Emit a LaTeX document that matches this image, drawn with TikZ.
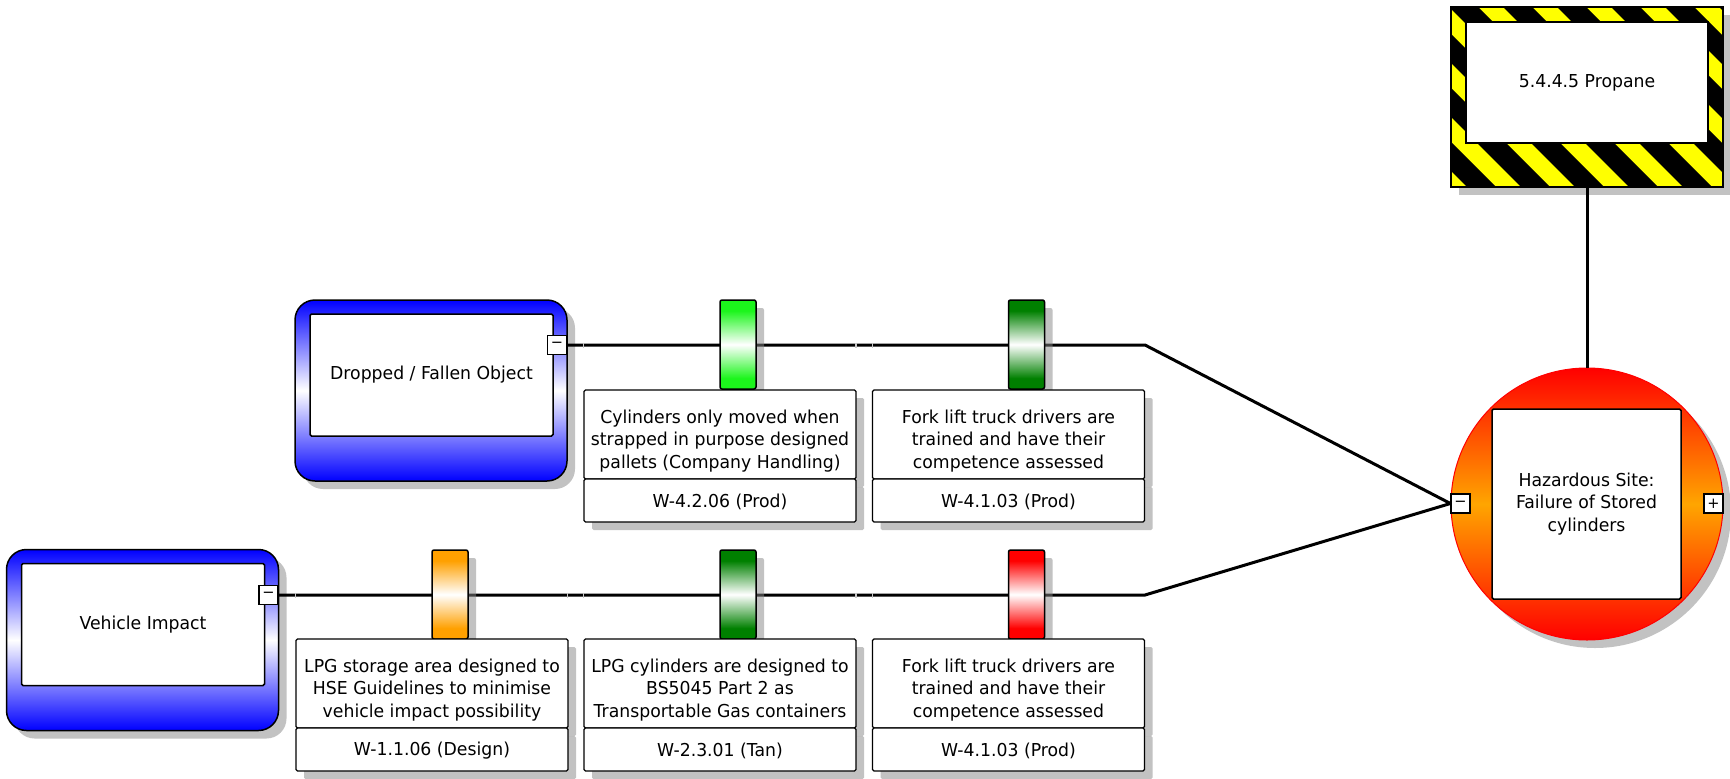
\documentclass[tikz,border=0pt]{standalone}
\usepackage{fontspec}
\setmainfont{DejaVu Sans}[FakeStretch=0.97]
\usetikzlibrary{shadows}

\definecolor{barlime}{HTML}{1CF51C}
\definecolor{bardkgreen}{HTML}{008000}
\definecolor{barorange}{HTML}{FFA000}
\definecolor{barred}{HTML}{FF0000}
\definecolor{evblue}{HTML}{0000FF}
\definecolor{hazyellow}{HTML}{FFFF00}
\definecolor{hazorange}{HTML}{FFA500}
\definecolor{gapgrey}{HTML}{C8C8C8}

% vertical barrier shadings: solid ends, white centre
\newcommand\barshade[2]{%
  \pgfdeclareverticalshading{#1}{100bp}{color(0bp)=(#2); color(25bp)=(#2); color(31bp)=(#2);
    color(50bp)=(white); color(69bp)=(#2); color(75bp)=(#2); color(100bp)=(#2)}}
\barshade{shlime}{barlime}
\barshade{shdkgreen}{bardkgreen}
\barshade{shorange}{barorange}
\barshade{shred}{barred}

\tikzset{
  txt/.style={font=\fontsize{17.8}{22.5}\selectfont},
  shd/.style={drop shadow={shadow xshift=8pt, shadow yshift=-8pt, fill=black!47, opacity=0.5}},
  evouter/.style={shd, rectangle, rounded corners=20pt, draw=black, line width=1.5pt,
    top color=evblue, bottom color=evblue, middle color=white,
    minimum width=272pt, minimum height=181pt, inner sep=0pt},
  evinner/.style={txt, rectangle, rounded corners=1.5pt, draw=black, line width=1.5pt, fill=white,
    minimum width=243pt, minimum height=122pt, inner sep=0pt, align=center},
  pmbox/.style={rectangle, draw=black, line width=1.2pt, fill=white, minimum size=19pt,
    inner sep=0pt, font=\fontsize{15}{15}\selectfont},
  barrier/.style={shd, rectangle, rounded corners=2pt, draw=black, line width=1.5pt,
    shading=#1, minimum width=36pt, minimum height=89pt, inner sep=0pt},
  descbox/.style={shd, rectangle, rounded corners=1.5pt, draw=black, line width=1.3pt, fill=white,
    minimum width=272pt, minimum height=89pt, inner sep=0pt},
  codebox/.style={shd, rectangle, rounded corners=1.5pt, draw=black, line width=1.3pt, fill=white,
    minimum width=272pt, minimum height=43pt, inner sep=0pt},
  boxtext/.style={txt, inner sep=0pt, align=center},
  wire/.style={line width=3pt, black},
  gapmark/.style={line width=1.3pt, gapgrey},
}

\begin{document}
\begin{tikzpicture}[x=1pt,y=-1pt]
\fill[white] (0,0) rectangle (1730,779);
\useasboundingbox (0,0) rectangle (1730,779);

% ---- threat events ----
\node[evouter] (dropOut) at (431,390.5) {};
\node[evinner] (drop) at (431.5,375) {Dropped / Fallen Object};
\node[pmbox] (dropMinus) at (557,345) {−};

\node[evouter] (vehOut) at (142.5,640) {};
\node[evinner] (veh) at (143,624.5) {Vehicle Impact};
\node[pmbox] (vehMinus) at (268.5,595) {−};

% ---- hazard (striped frame) ----
\node[shd, rectangle, fill=hazyellow, minimum width=272pt, minimum height=180pt, inner sep=0pt]
  (propOut) at (1587,97) {};
\begin{scope}
  \clip (propOut.south west) rectangle (propOut.north east);
  \foreach \k in {-5,...,6}
    \fill[black] ({1503+54*\k},7) -- ++(29,0) -- ++(185,185) -- ++(-29,0) -- cycle;
\end{scope}
\draw[line width=1.5pt] (propOut.south west) rectangle (propOut.north east);
\node[txt, rectangle, draw=black, line width=1.5pt, fill=white, minimum width=242pt,
  minimum height=121pt, inner sep=0pt] (prop) at (1587,82.5) {5.4.4.5 Propane};

% ---- top event ----
\node[shd, circle, draw=red, line width=1pt, top color=red, bottom color=red, middle color=hazorange,
  minimum size=272pt, inner sep=0pt] (hazOut) at (1587,504) {};
\node[txt, rectangle, rounded corners=1.5pt, draw=black, line width=1.5pt, fill=white,
  minimum width=189pt, minimum height=190pt, inner sep=0pt, align=center]
  (haz) at (1586.5,504) {Hazardous Site:\\Failure of Stored\\cylinders};
\node[pmbox] (hazMinus) at (1460.5,503.5) {−};
\node[pmbox] (hazPlus) at (1713.5,503.5) {+};

% ---- pathways ----
\coordinate (bendA) at (1145,345);
\coordinate (bendB) at (1145,595);
\draw[wire] (dropMinus.east) -- (bendA) -- (hazMinus.west);
\draw[wire] (vehMinus.east) -- (bendB) -- (hazMinus.west);

% small breaks where the wire segments join
\foreach \gx in {583.5,856,872.5}
  \draw[gapmark] (\gx,342.5) -- (\gx,347.5);
\foreach \gx in {295.5,567.5,583.5,856,872.5}
  \draw[gapmark] (\gx,592.5) -- (\gx,597.5);

% ---- barriers: upper pathway ----
\node[barrier=shlime] (b1) at (738,344.5) {};
\node[barrier=shdkgreen] (b2) at (1026.5,344.5) {};
\node[descbox] (d1) at (720,434.5) {};
\node[boxtext] (d1t) at ([yshift=-6.5pt]d1.center)
  {Cylinders only moved when\\strapped in purpose designed\\pallets (Company Handling)};
\node[codebox] (c1) at (720,500.5) {};
\node[boxtext] (c1t) at ([yshift=-1.5pt]c1.center) {W-4.2.06 (Prod)};
\node[descbox] (d2) at (1008.5,434.5) {};
\node[boxtext] (d2t) at ([yshift=-6.5pt]d2.center)
  {Fork lift truck drivers are\\trained and have their\\competence assessed};
\node[codebox] (c2) at (1008.5,500.5) {};
\node[boxtext] (c2t) at ([yshift=-1.5pt]c2.center) {W-4.1.03 (Prod)};

% ---- barriers: lower pathway ----
\node[barrier=shorange] (b3) at (450,594.5) {};
\node[barrier=shdkgreen] (b4) at (738,594.5) {};
\node[barrier=shred] (b5) at (1026.5,594.5) {};
\node[descbox] (d3) at (432,683.5) {};
\node[boxtext] (d3t) at ([yshift=-6.5pt]d3.center)
  {LPG storage area designed to\\HSE Guidelines to minimise\\vehicle impact possibility};
\node[codebox] (c3) at (432,749.5) {};
\node[boxtext] (c3t) at ([yshift=-1.5pt]c3.center) {W-1.1.06 (Design)};
\node[descbox] (d4) at (720,683.5) {};
\node[boxtext] (d4t) at ([yshift=-6.5pt]d4.center)
  {LPG cylinders are designed to\\BS5045 Part 2 as\\Transportable Gas containers};
\node[codebox] (c4) at (720,749.5) {};
\node[boxtext] (c4t) at ([yshift=-1.5pt]c4.center) {W-2.3.01 (Tan)};
\node[descbox] (d5) at (1008.5,683.5) {};
\node[boxtext] (d5t) at ([yshift=-6.5pt]d5.center)
  {Fork lift truck drivers are\\trained and have their\\competence assessed};
\node[codebox] (c5) at (1008.5,749.5) {};
\node[boxtext] (c5t) at ([yshift=-1.5pt]c5.center) {W-4.1.03 (Prod)};

% hazard to top event
\draw[wire] (propOut.south) -- (hazOut.north);
\end{tikzpicture}
\end{document}
